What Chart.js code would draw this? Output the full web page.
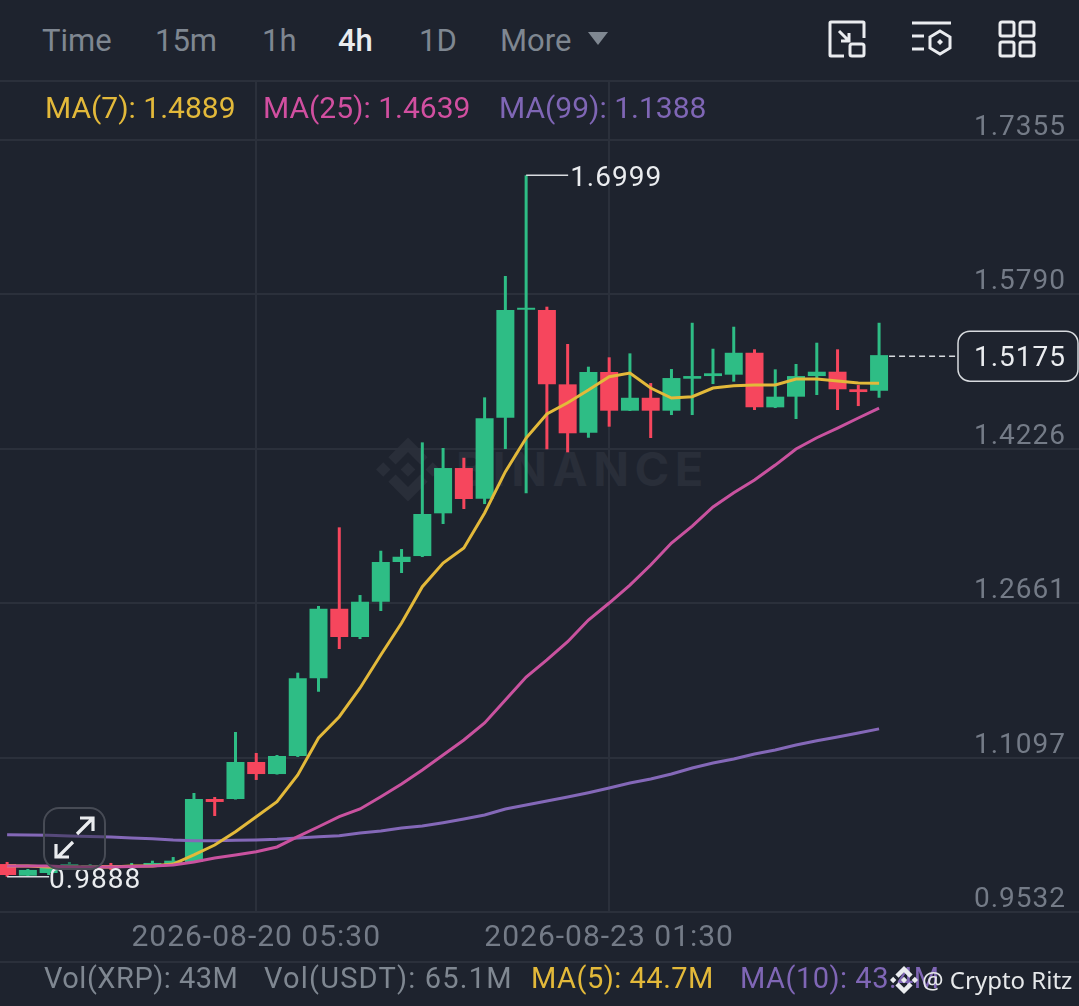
<!DOCTYPE html>
<html lang="en">
<head>
<meta charset="UTF-8">
<title>XRP 4h</title>
<script src="https://cdn.jsdelivr.net/npm/chart.js"></script>
<style>
    html, body { margin: 0; padding: 0; background: #1e232e; }
    body { position: relative; width: 1079px; height: 1006px; overflow: hidden; font-family: Roboto, sans-serif; }
    #page span, #wm span { position: absolute; white-space: nowrap; }
    #wm { position: absolute; left: 0; top: 0; }
    #wm svg { position: absolute; left: 376px; top: 437px; }
    #wm span { left: 456px; top: 441px; font-family: Inter, sans-serif; font-size: 47px; line-height: 56px; font-weight: 700; letter-spacing: 5.5px; color: #292e39; }
    canvas { position: absolute; left: 0; top: 81px; }
    .rule { position: absolute; left: 0; width: 1079px; height: 2px; background: #2b303b; }
    .tab { top: 23px; font-size: 31px; line-height: 36px; color: #7f8791; }
    .ma { top: 93px; font-size: 30px; line-height: 30px; }
    .foot { top: 963px; font-size: 29px; line-height: 30px; letter-spacing: .5px; }
    #expand { position: absolute; left: 43px; top: 807px; width: 59px; height: 59px; border: 2px solid #474b55; border-radius: 16px; background: rgba(30, 35, 46, .45); }
    #page svg.icon { position: absolute; }
</style>
</head>
<body>
<div id="wm">
    <svg width="64" height="65" viewBox="0 0 32 32" fill="#292e39"><path d="M9.79 13.45 16 7.24l6.21 6.21 3.62-3.61L16 0 6.17 9.83zM0 16l3.62-3.62L7.24 16l-3.62 3.62zM9.79 18.55 16 24.76l6.21-6.21 3.62 3.61L16 32l-9.83-9.83zM24.76 16l3.62-3.62L32 16l-3.62 3.62zM19.67 16 16 12.33 12.33 16 16 19.67z"/></svg>
    <span>BINANCE</span>
</div>
<canvas id="klineChart" width="1079" height="881"></canvas>
<div id="page">
    <div class="rule" style="top:80px"></div>
    <div class="rule" style="top:961px"></div>
    <span class="tab" style="left:42px">Time</span>
    <span class="tab" style="left:155px">15m</span>
    <span class="tab" style="left:262px">1h</span>
    <span class="tab" style="left:338px;color:#eaecef;font-weight:500">4h</span>
    <span class="tab" style="left:419px">1D</span>
    <span class="tab" style="left:500px">More</span>
    <svg class="icon" style="left:588px;top:32px" width="20" height="13"><path d="M0 0H20L10 13z" fill="#7f8791"/></svg>

    <svg class="icon" style="left:828px;top:20px" width="38" height="38" fill="none" stroke="#eaecef" stroke-width="3"><path d="M36 18V3Q36 2 35 2H3Q2 2 2 3V35Q2 36 3 36H16"/><path d="M11 11 21 21M21 13V21H13"/><rect x="22" y="24" width="14" height="12" rx="2"/></svg>
    <svg class="icon" style="left:912px;top:20px" width="40" height="38" fill="none" stroke="#eaecef" stroke-width="3"><path d="M0 3H39M0 16H12M0 29H12"/><path d="M28 11 38 17V28L28 34 18 28V17z"/><path d="M28 19l3 3-3 3-3-3z" fill="#eaecef" stroke="none"/></svg>
    <svg class="icon" style="left:998px;top:20px" width="38" height="38" fill="none" stroke="#eaecef" stroke-width="3"><rect x="2" y="2" width="14" height="14" rx="2"/><rect x="22" y="2" width="14" height="14" rx="2"/><rect x="2" y="22" width="14" height="14" rx="2"/><rect x="22" y="22" width="14" height="14" rx="2"/></svg>

    <span class="ma" id="ma7label" style="left:45px;color:#e3b93a"></span>
    <span class="ma" id="ma25label" style="left:263px;color:#d14fa0"></span>
    <span class="ma" id="ma99label" style="left:499px;color:#7f66b5"></span>

    <div id="expand"><svg width="59" height="59" fill="none" stroke="#eaecef" stroke-width="3.2"><path d="M32 25 47 10M35 9H48V22M28 33 13 48M11 35V48H24"/></svg></div>

    <span class="foot" style="left:44px;color:#7f8791">Vol(XRP): 43M</span>
    <span class="foot" style="left:264px;color:#7f8791;letter-spacing:1.2px">Vol(USDT): 65.1M</span>
    <span class="foot" style="left:531px;color:#e3b93a">MA(5): 44.7M</span>
    <span class="foot" style="left:740px;color:#7f66b5">MA(10): 43.4M</span>
    <svg class="icon" style="left:890px;top:966px" width="28" height="28" viewBox="0 0 32 32" fill="#eaecef"><path d="M9.79 13.45 16 7.24l6.21 6.21 3.62-3.61L16 0 6.17 9.83zM0 16l3.62-3.62L7.24 16l-3.62 3.62zM9.79 18.55 16 24.76l6.21-6.21 3.62 3.61L16 32l-9.83-9.83zM24.76 16l3.62-3.62L32 16l-3.62 3.62zM19.67 16 16 12.33 12.33 16 16 19.67z"/></svg>
    <span style="left:922px;top:965px;font:24px/30px 'Noto Sans',sans-serif;color:#e6e8ea">@ Crypto Ritz</span>
</div>

<script>
    const times = [
        '2026-08-18 05:30', '2026-08-18 09:30', '2026-08-18 13:30', '2026-08-18 17:30', '2026-08-18 21:30',
        '2026-08-19 01:30', '2026-08-19 05:30', '2026-08-19 09:30', '2026-08-19 13:30', '2026-08-19 17:30', '2026-08-19 21:30',
        '2026-08-20 01:30', '2026-08-20 05:30', '2026-08-20 09:30', '2026-08-20 13:30', '2026-08-20 17:30', '2026-08-20 21:30',
        '2026-08-21 01:30', '2026-08-21 05:30', '2026-08-21 09:30', '2026-08-21 13:30', '2026-08-21 17:30', '2026-08-21 21:30',
        '2026-08-22 01:30', '2026-08-22 05:30', '2026-08-22 09:30', '2026-08-22 13:30', '2026-08-22 17:30', '2026-08-22 21:30',
        '2026-08-23 01:30', '2026-08-23 05:30', '2026-08-23 09:30', '2026-08-23 13:30', '2026-08-23 17:30', '2026-08-23 21:30',
        '2026-08-24 01:30', '2026-08-24 05:30', '2026-08-24 09:30', '2026-08-24 13:30', '2026-08-24 17:30', '2026-08-24 21:30',
        '2026-08-25 01:30', '2026-08-25 05:30'
    ];
    const openPrices = [
        1.0018, 0.9900, 0.9927, 0.9988, 0.9978, 1.0008, 0.9988, 0.9998, 1.0008, 1.0039, 1.0677,
        1.0677, 1.1052, 1.0930, 1.1113, 1.1900, 1.2605, 1.2319, 1.2676, 1.3079, 1.3139, 1.3572,
        1.4031, 1.3720, 1.4541, 1.5635, 1.5632, 1.4879, 1.4389, 1.5004, 1.4612, 1.4743, 1.4612,
        1.4936, 1.4963, 1.4977, 1.5199, 1.4646, 1.4754, 1.4963, 1.5007, 1.4829, 1.4814
    ];
    const highPrices = [
        1.0039, 0.9968, 0.9998, 1.0039, 1.0018, 1.0029, 1.0029, 1.0052, 1.0089, 1.0738, 1.0697,
        1.1356, 1.1143, 1.1123, 1.1957, 1.2633, 1.3430, 1.2744, 1.3193, 1.3210, 1.4291, 1.4234,
        1.4135, 1.4747, 1.5977, 1.6999, 1.5666, 1.5288, 1.5058, 1.5153, 1.5193, 1.4892, 1.5034,
        1.5503, 1.5240, 1.5463, 1.5234, 1.5031, 1.5085, 1.5301, 1.5234, 1.4872, 1.5503
    ];
    const lowPrices = [
        0.9888, 0.9895, 0.9907, 0.9978, 0.9968, 0.9958, 0.9978, 0.9988, 0.9998, 1.0029, 1.0505,
        1.0672, 1.0870, 1.0925, 1.1103, 1.1764, 1.2197, 1.2298, 1.2582, 1.2967, 1.3129, 1.3464,
        1.3616, 1.3666, 1.4224, 1.3775, 1.4221, 1.4190, 1.4338, 1.4450, 1.4609, 1.4335, 1.4568,
        1.4568, 1.4882, 1.4906, 1.4619, 1.4639, 1.4528, 1.4771, 1.4619, 1.4659, 1.4743
    ];
    const closePrices = [
        0.9907, 0.9958, 0.9978, 1.0018, 1.0008, 0.9978, 1.0008, 1.0029, 1.0052, 1.0677, 1.0647,
        1.1052, 1.0930, 1.1113, 1.1900, 1.2605, 1.2319, 1.2676, 1.3079, 1.3132, 1.3565, 1.4031,
        1.3717, 1.4535, 1.5632, 1.5655, 1.4879, 1.4383, 1.5004, 1.4612, 1.4743, 1.4612, 1.4943,
        1.4963, 1.4991, 1.5199, 1.4646, 1.4754, 1.4963, 1.5007, 1.4829, 1.4801, 1.5175
    ];
    const ma7 = [
        0.9998, 0.9998, 0.9988, 0.9988, 0.9988, 0.9988, 0.9998, 0.9998, 1.0018, 1.0110, 1.0211,
        1.0346, 1.0498, 1.0650, 1.0920, 1.1295, 1.1511, 1.1802, 1.2136, 1.2460, 1.2828, 1.3068,
        1.3220, 1.3575, 1.3994, 1.4335, 1.4578, 1.4693, 1.4821, 1.4956, 1.4994, 1.4842, 1.4740,
        1.4754, 1.4842, 1.4865, 1.4872, 1.4872, 1.4933, 1.4933, 1.4913, 1.4892, 1.4889
    ];
    const ma25 = [
        0.9998, 0.9998, 0.9998, 0.9988, 0.9988, 0.9988, 0.9993, 0.9998, 1.0008, 1.0039, 1.0079,
        1.0110, 1.0143, 1.0191, 1.0295, 1.0396, 1.0498, 1.0576, 1.0700, 1.0829, 1.0971, 1.1123,
        1.1275, 1.1447, 1.1680, 1.1913, 1.2086, 1.2271, 1.2491, 1.2663, 1.2845, 1.3048, 1.3271,
        1.3443, 1.3636, 1.3781, 1.3909, 1.4061, 1.4224, 1.4338, 1.4436, 1.4538, 1.4639
    ];
    const ma99 = [
        1.0315, 1.0312, 1.0309, 1.0302, 1.0297, 1.0292, 1.0282, 1.0275, 1.0262, 1.0254, 1.0254,
        1.0258, 1.0262, 1.0269, 1.0282, 1.0295, 1.0305, 1.0333, 1.0353, 1.0383, 1.0403, 1.0437,
        1.0474, 1.0515, 1.0576, 1.0616, 1.0657, 1.0697, 1.0741, 1.0788, 1.0839, 1.0880, 1.0930,
        1.0991, 1.1042, 1.1082, 1.1133, 1.1174, 1.1224, 1.1268, 1.1305, 1.1346, 1.1388
    ];
    const priceTicks = [0.9532, 1.1097, 1.2661, 1.4226, 1.5790, 1.7355];
    const timeTicks = ['2026-08-20 05:30', '2026-08-23 01:30'];

    const GREEN = '#2ebd85', RED = '#f6465d';
    const FONT = 'Roboto, sans-serif';

    document.getElementById('ma7label').textContent = 'MA(7): ' + ma7[ma7.length - 1].toFixed(4);
    document.getElementById('ma25label').textContent = 'MA(25): ' + ma25[ma25.length - 1].toFixed(4);
    document.getElementById('ma99label').textContent = 'MA(99): ' + ma99[ma99.length - 1].toFixed(4);

    const candleColor = times.map((t, i) => closePrices[i] >= openPrices[i] ? GREEN : RED);

    // high / low markers and the last price tag
    const priceMarks = {
        id: 'priceMarks',
        beforeDraw(chart) { chart.ctx.letterSpacing = '1px'; },
        afterDatasetsDraw(chart) {
            const { ctx, scales: { x, y } } = chart;
            ctx.save();
            ctx.font = '28px ' + FONT;
            ctx.textBaseline = 'middle';
            ctx.strokeStyle = '#d8dbdf';
            ctx.fillStyle = '#eaecef';
            ctx.lineWidth = 1.5;

            const hi = Math.max(...highPrices), hiX = x.getPixelForValue(highPrices.indexOf(hi)), hiY = y.getPixelForValue(hi);
            ctx.beginPath(); ctx.moveTo(hiX, hiY); ctx.lineTo(hiX + 42, hiY); ctx.stroke();
            ctx.fillText(hi.toFixed(4), hiX + 44, hiY + 4);

            const lo = Math.min(...lowPrices), loX = x.getPixelForValue(lowPrices.indexOf(lo)), loY = y.getPixelForValue(lo);
            ctx.beginPath(); ctx.moveTo(loX, loY); ctx.lineTo(loX + 42, loY); ctx.stroke();
            ctx.fillText(lo.toFixed(4), loX + 42, loY + 4);

            const last = closePrices[closePrices.length - 1], lastX = x.getPixelForValue(closePrices.length - 1), lastY = y.getPixelForValue(last);
            ctx.setLineDash([6, 4]);
            ctx.beginPath(); ctx.moveTo(lastX + 10, lastY + 1); ctx.lineTo(958, lastY + 1); ctx.stroke();
            ctx.setLineDash([]);
            ctx.beginPath(); ctx.roundRect(958, lastY - 24, 120, 50, 12);
            ctx.fillStyle = '#1e232e'; ctx.fill(); ctx.stroke();
            ctx.fillStyle = '#eaecef'; ctx.textAlign = 'right';
            ctx.fillText(last.toFixed(4), 1066, lastY + 4);
            ctx.restore();
        }
    };

    new Chart(document.getElementById('klineChart'), {
        type: 'bar',
        data: {
            datasets: [
                { type: 'line', label: 'MA(7)', data: ma7.map((v, i) => ({ x: i, y: v })), borderColor: '#e3b93a', borderWidth: 3, pointRadius: 0, tension: 0, order: 1 },
                { type: 'line', label: 'MA(25)', data: ma25.map((v, i) => ({ x: i, y: v })), borderColor: '#c9529f', borderWidth: 3, pointRadius: 0, tension: 0, order: 0 },
                { type: 'line', label: 'MA(99)', data: ma99.map((v, i) => ({ x: i, y: v })), borderColor: '#8468b8', borderWidth: 3, pointRadius: 0, tension: 0, order: 2 },
                { label: 'Body', data: times.map((t, i) => ({ x: i, y: [openPrices[i], closePrices[i]] })), backgroundColor: candleColor, barThickness: 18, grouped: false, inflateAmount: 0, order: 3 },
                { label: 'Wick', data: times.map((t, i) => ({ x: i, y: [lowPrices[i], highPrices[i]] })), backgroundColor: candleColor, barThickness: 3, grouped: false, inflateAmount: 0, order: 4 }
            ]
        },
        options: {
            responsive: false,
            animation: false,
            layout: { padding: 0, autoPadding: false },
            plugins: { legend: { display: false }, tooltip: { enabled: false } },
            scales: {
                x: {
                    type: 'linear',
                    min: -0.342,
                    max: 51.63,
                    offset: false,
                    border: { display: false },
                    grid: { color: '#2b303b', lineWidth: 2, drawTicks: false, offset: false },
                    afterBuildTicks(scale) { scale.ticks = timeTicks.map(t => ({ value: times.indexOf(t) })); },
                    afterFit(scale) { scale.height = 50; scale.paddingLeft = 0; scale.paddingRight = 0; },
                    ticks: {
                        autoSkip: false,
                        maxRotation: 0,
                        padding: 8,
                        color: '#747b87',
                        font: { family: FONT, size: 30 },
                        callback: v => times[v]
                    }
                },
                y: {
                    position: 'right',
                    min: 0.9532,
                    max: 1.7953,
                    border: { display: false },
                    grid: { color: '#2b303b', lineWidth: 2, drawTicks: false },
                    afterBuildTicks(scale) { scale.ticks = priceTicks.map(v => ({ value: v })); },
                    afterFit(scale) { scale.width = 0; scale.paddingTop = 0; scale.paddingBottom = 0; },
                    ticks: {
                        mirror: true,
                        autoSkip: false,
                        padding: -13,
                        labelOffset: -12,
                        color: '#747b87',
                        font: { family: FONT, size: 28 },
                        callback: v => v.toFixed(4)
                    }
                }
            }
        },
        plugins: [priceMarks]
    });
</script>
</body>
</html>
